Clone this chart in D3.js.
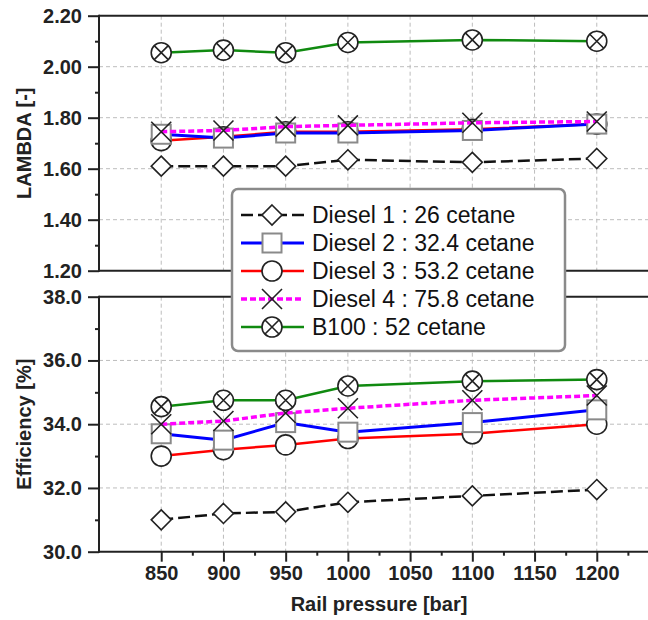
<!DOCTYPE html>
<html lang="en">
<head>
    <meta charset="UTF-8">
    <title>Lambda and efficiency vs rail pressure</title>
    <style>
        body { margin: 0; padding: 0; background: #fff; }
        svg { display: block; font-family: "Liberation Sans", Arial, sans-serif; }
        .tick text { font-size: 20px; font-weight: bold; fill: #222; }
        .grid line { stroke: #bdbdbd; stroke-width: 1; stroke-dasharray: 4,3; }
        .frame { stroke: #222; stroke-width: 2; }
        .title { font-size: 20px; font-weight: bold; fill: #222; }
        .legend text { font-size: 23px; fill: #111; }
    </style>
    <script src="https://cdn.jsdelivr.net/npm/d3@7"></script>
</head>
<body>
<svg id="chart" width="648" height="620"></svg>
<script>
    // rail pressure [bar]
    const pressure = [850, 900, 950, 1000, 1100, 1200];

    // LAMBDA [-]
    const lambdaD1 = [1.61, 1.61, 1.61, 1.635, 1.625, 1.64];
    const lambdaD2 = [1.735, 1.72, 1.74, 1.74, 1.75, 1.775];
    const lambdaD3 = [1.71, 1.725, 1.745, 1.745, 1.755, 1.775];
    const lambdaD4 = [1.745, 1.75, 1.765, 1.77, 1.78, 1.785];
    const lambdaB100 = [2.055, 2.065, 2.055, 2.095, 2.105, 2.10];

    // Efficiency [%]
    const effD1 = [31.0, 31.2, 31.25, 31.55, 31.75, 31.95];
    const effD2 = [33.7, 33.5, 34.05, 33.75, 34.05, 34.45];
    const effD3 = [33.0, 33.2, 33.35, 33.55, 33.7, 34.0];
    const effD4 = [34.0, 34.1, 34.35, 34.5, 34.75, 34.9];
    const effB100 = [34.55, 34.75, 34.75, 35.2, 35.35, 35.4];

    const seriesNames = ['Diesel 1 : 26 cetane', 'Diesel 2 : 32.4 cetane', 'Diesel 3 : 53.2 cetane',
                         'Diesel 4 : 75.8 cetane', 'B100 : 52 cetane'];
    const xTicks = [850, 900, 950, 1000, 1050, 1100, 1150, 1200];
    const xMinor = [875, 925, 975, 1025, 1075, 1125, 1175, 1225];
    const lambdaTicks = [1.2, 1.4, 1.6, 1.8, 2.0, 2.2];
    const lambdaMinor = [1.3, 1.5, 1.7, 1.9, 2.1];
    const effTicks = [30, 32, 34, 36, 38];
    const effMinor = [31, 33, 35, 37];

    // style per series, in legend order
    const styles = [
        { color: '#111', width: 2.5, dash: '12,5', marker: 'diamond', mstroke: '#222' },
        { color: '#0000ff', width: 3, dash: null, marker: 'square', mstroke: '#8a8a8a' },
        { color: '#ff0000', width: 2.5, dash: null, marker: 'circle', mstroke: '#222' },
        { color: '#ff00ff', width: 3.5, dash: '6,3', marker: 'cross', mstroke: '#222' },
        { color: '#108a10', width: 2.5, dash: null, marker: 'circlecross', mstroke: '#222' }
    ];
    // drawing order: Diesel 3 below Diesel 2
    const drawOrder = [0, 2, 1, 3, 4];

    const svg = d3.select('#chart');
    const left = 99, right = 648;
    const x = d3.scaleLinear().domain([800, 1250]).range([left, 659]);

    const panels = [
        { top: 15.7, bottom: 270.7, domain: [1.2, 2.2], ticks: lambdaTicks, minor: lambdaMinor, fmt: d3.format('.2f'),
          title: 'LAMBDA [-]', data: [lambdaD1, lambdaD2, lambdaD3, lambdaD4, lambdaB100], xAxis: false },
        { top: 296.7, bottom: 551.7, domain: [30, 38], ticks: effTicks, minor: effMinor, fmt: d3.format('.1f'),
          title: 'Efficiency [%]', data: [effD1, effD2, effD3, effD4, effB100], xAxis: true }
    ];

    function drawMarker(g, type, cx, cy, stroke) {
        const r = 10;
        if (type === 'diamond') {
            g.append('path').attr('d', `M${cx},${cy - r}L${cx + r},${cy}L${cx},${cy + r}L${cx - r},${cy}Z`)
                .attr('fill', '#fff').attr('stroke', stroke).attr('stroke-width', 1.6);
        } else if (type === 'square') {
            g.append('rect').attr('x', cx - 9.5).attr('y', cy - 9.5).attr('width', 19).attr('height', 19)
                .attr('fill', '#fff').attr('stroke', stroke).attr('stroke-width', 2);
        } else if (type === 'circle') {
            g.append('circle').attr('cx', cx).attr('cy', cy).attr('r', r)
                .attr('fill', '#fff').attr('stroke', stroke).attr('stroke-width', 1.6);
        } else if (type === 'cross') {
            g.append('path').attr('d', `M${cx - r},${cy - r}L${cx + r},${cy + r}M${cx - r},${cy + r}L${cx + r},${cy - r}`)
                .attr('fill', 'none').attr('stroke', stroke).attr('stroke-width', 1.6);
        } else {
            const k = 7;
            g.append('circle').attr('cx', cx).attr('cy', cy).attr('r', r)
                .attr('fill', '#fff').attr('stroke', stroke).attr('stroke-width', 1.6);
            g.append('path').attr('d', `M${cx - k},${cy - k}L${cx + k},${cy + k}M${cx - k},${cy + k}L${cx + k},${cy - k}`)
                .attr('fill', 'none').attr('stroke', stroke).attr('stroke-width', 1.6);
        }
    }

    panels.forEach(p => {
        const y = d3.scaleLinear().domain(p.domain).range([p.bottom, p.top]);
        const g = svg.append('g');

        // grid
        const grid = g.append('g').attr('class', 'grid');
        grid.selectAll('line.v').data(xTicks.concat([1250])).enter().append('line')
            .attr('x1', d => x(d)).attr('x2', d => x(d)).attr('y1', p.top).attr('y2', p.bottom);
        grid.selectAll('line.h').data(p.ticks.slice(1, -1)).enter().append('line')
            .attr('x1', left).attr('x2', right).attr('y1', d => y(d)).attr('y2', d => y(d));

        // y axis
        const yAxis = g.append('g').attr('transform', `translate(${left},0)`)
            .call(d3.axisLeft(y).tickValues(p.ticks).tickFormat(p.fmt).tickSizeInner(11).tickSizeOuter(0).tickPadding(6));
        yAxis.select('.domain').remove();
        yAxis.selectAll('.tick line').attr('stroke', '#222').attr('stroke-width', 2);
        g.append('g').attr('transform', `translate(${left},0)`)
            .call(d3.axisLeft(y).tickValues(p.minor).tickFormat('').tickSizeInner(4).tickSizeOuter(0))
            .call(a => a.select('.domain').remove())
            .selectAll('.tick line').attr('stroke', '#222').attr('stroke-width', 2);

        if (p.xAxis) {
            const xa = g.append('g').attr('transform', `translate(0,${p.bottom})`)
                .call(d3.axisBottom(x).tickValues(xTicks).tickFormat(d3.format('d'))
                    .tickSizeInner(10).tickSizeOuter(0).tickPadding(4));
            xa.select('.domain').remove();
            xa.selectAll('.tick line').attr('stroke', '#222').attr('stroke-width', 2);
            g.append('g').attr('transform', `translate(0,${p.bottom})`)
                .call(d3.axisBottom(x).tickValues(xMinor).tickFormat('').tickSizeInner(4).tickSizeOuter(0))
                .call(a => a.select('.domain').remove())
                .selectAll('.tick line').attr('stroke', '#222').attr('stroke-width', 2);
        }

        // frame
        g.append('line').attr('class', 'frame').attr('x1', left).attr('x2', right).attr('y1', p.top).attr('y2', p.top);
        g.append('line').attr('class', 'frame').attr('x1', left).attr('x2', right).attr('y1', p.bottom).attr('y2', p.bottom);
        g.append('line').attr('class', 'frame').attr('x1', left).attr('x2', left).attr('y1', p.top - 1).attr('y2', p.bottom + 1);

        g.append('text').attr('class', 'title')
            .attr('transform', `translate(31,${(p.top + p.bottom) / 2}) rotate(-90)`)
            .attr('text-anchor', 'middle').text(p.title);

        // series
        const line = d3.line().x(d => x(d[0])).y(d => y(d[1]));
        drawOrder.forEach(i => {
            const st = styles[i];
            const pts = pressure.map((v, j) => [v, p.data[i][j]]);
            g.append('path').datum(pts).attr('d', line)
                .attr('fill', 'none').attr('stroke', st.color).attr('stroke-width', st.width)
                .attr('stroke-dasharray', st.dash);
            const mg = g.append('g');
            pts.forEach(d => drawMarker(mg, st.marker, x(d[0]), y(d[1]), st.mstroke));
        });
    });

    svg.append('text').attr('class', 'title').attr('x', x(1025)).attr('y', 611)
        .attr('text-anchor', 'middle').text('Rail pressure [bar]');

    // legend
    const lg = svg.append('g').attr('class', 'legend');
    lg.append('rect').attr('x', 232).attr('y', 189).attr('width', 333).attr('height', 162).attr('rx', 6)
        .attr('fill', '#fff').attr('stroke', '#8a8a8a').attr('stroke-width', 2.5);
    seriesNames.forEach((name, i) => {
        const st = styles[i];
        const cy = 215 + i * 28;
        lg.append('line').attr('x1', 241).attr('x2', 304).attr('y1', cy).attr('y2', cy)
            .attr('stroke', st.color).attr('stroke-width', st.width).attr('stroke-dasharray', st.dash);
        drawMarker(lg, st.marker, 272, cy, st.mstroke);
        lg.append('text').attr('x', 312).attr('y', cy).attr('dy', '0.36em').text(name);
    });
</script>
</body>
</html>
